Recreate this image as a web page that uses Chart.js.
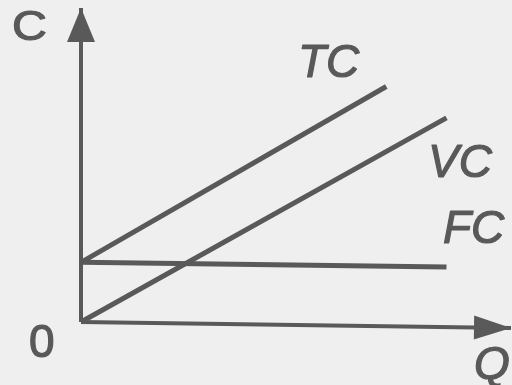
<!DOCTYPE html>
<html>
<head>
<meta charset="utf-8">
<script src="https://cdn.jsdelivr.net/npm/chart.js@4"></script>
<style>
  html, body { margin: 0; padding: 0; background: #efefef; }
  #wrap { width: 512px; height: 385px; }
</style>
</head>
<body>
<div id="wrap"><canvas id="costChart" width="512" height="385"></canvas></div>
<script>
const axeY = [{x: 0, y: 0}, {x: 0, y: 100}];
const axeX = [{x: 0, y: 0}, {x: 100, y: -1.9}];
const coutFixe = [{x: 0, y: 19}, {x: 85, y: 17.5}];     // FC
const coutTotal = [{x: 0, y: 19}, {x: 71, y: 75}];      // TC
const coutVariable = [{x: 0, y: 0}, {x: 85, y: 65}];    // VC

const encre = '#595959';

// Fond gris clair + flèches des axes + étiquettes
const schemaPlugin = {
    id: 'schema',
    beforeDraw(chart) {
        const ctx = chart.ctx;
        ctx.save();
        ctx.fillStyle = '#efefef';
        ctx.fillRect(0, 0, chart.width, chart.height);
        ctx.restore();
    },
    afterDatasetsDraw(chart) {
        const ctx = chart.ctx;
        const sx = chart.scales.x, sy = chart.scales.y;

        function fleche(pts, longueur, demi) {
            const a = pts[pts.length - 2], b = pts[pts.length - 1];
            const x1 = sx.getPixelForValue(a.x), y1 = sy.getPixelForValue(a.y);
            const x2 = sx.getPixelForValue(b.x), y2 = sy.getPixelForValue(b.y);
            const ang = Math.atan2(y2 - y1, x2 - x1);
            ctx.save();
            ctx.translate(x2, y2);
            ctx.rotate(ang);
            ctx.beginPath();
            ctx.moveTo(0, 0);
            ctx.lineTo(-longueur, -demi);
            ctx.lineTo(-longueur, demi);
            ctx.closePath();
            ctx.fillStyle = encre;
            ctx.fill();
            ctx.restore();
        }
        fleche(axeY, 34, 14);
        fleche(axeX, 37, 12);

        // texte un peu plus gras que le regular
        function texte(t, x, y) {
            ctx.fillText(t, x, y);
            ctx.strokeText(t, x, y);
        }

        ctx.save();
        ctx.fillStyle = encre;
        ctx.strokeStyle = encre;
        ctx.lineWidth = 1.2;
        ctx.lineJoin = 'round';
        ctx.textBaseline = 'alphabetic';
        ctx.textAlign = 'left';
        ctx.font = '42px "Liberation Sans", Arial, sans-serif';
        ctx.save();
        ctx.translate(12, 40);
        ctx.scale(1.15, 1);
        texte('C', 0, 0);
        ctx.restore();
        ctx.font = '46px "Liberation Sans", Arial, sans-serif';
        texte('0', 29, 357);
        ctx.font = 'italic 46px "Liberation Sans", Arial, sans-serif';
        texte('TC', 298, 77);
        texte('VC', 428, 177);
        texte('FC', 443, 243);
        texte('Q', 474, 379);
        ctx.restore();
    }
};

function ligne(data, largeur) {
    return {
        data: data,
        showLine: true,
        borderColor: encre,
        borderWidth: largeur,
        pointRadius: 0,
        pointHoverRadius: 0,
        fill: false,
        clip: false
    };
}

document.addEventListener('DOMContentLoaded', function() {
    const ctx = document.getElementById('costChart').getContext('2d');
    new Chart(ctx, {
        type: 'scatter',
        data: {
            datasets: [
                ligne(axeY, 4),
                ligne(axeX, 4),
                ligne(coutFixe, 5),
                ligne(coutTotal, 5),
                ligne(coutVariable, 5)
            ]
        },
        options: {
            responsive: false,
            animation: false,
            layout: {
                padding: { left: 81, right: 1, top: 8, bottom: 63 }
            },
            plugins: {
                legend: { display: false },
                tooltip: { enabled: false }
            },
            scales: {
                x: { type: 'linear', min: 0, max: 100, display: false },
                y: { type: 'linear', min: 0, max: 100, display: false }
            }
        },
        plugins: [schemaPlugin]
    });
});
</script>
</body>
</html>
